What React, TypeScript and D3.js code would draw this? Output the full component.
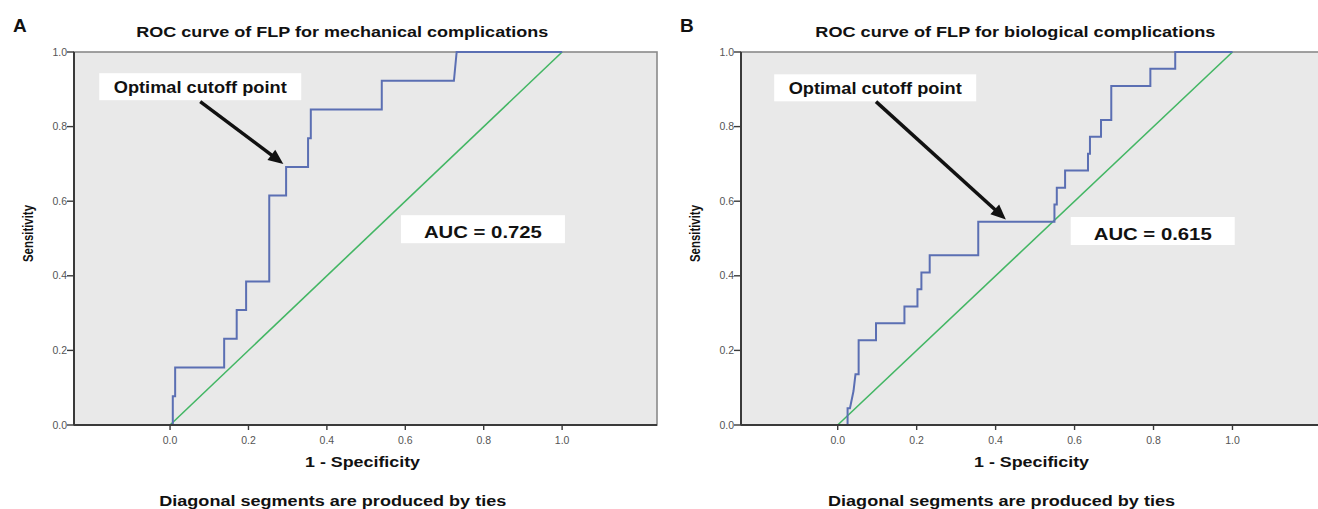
import React from 'react';
import * as d3 from 'd3';

// ---- data ----
const xTicks = [0, 0.2, 0.4, 0.6, 0.8, 1.0];
const yTicks = [0, 0.2, 0.4, 0.6, 0.8, 1.0];

const panelLetters = ['A', 'B'];
const panelTitles = [
  'ROC curve of FLP for mechanical complications',
  'ROC curve of FLP for biological complications',
];
const aucLabels = ['AUC = 0.725', 'AUC = 0.615'];
const cutoffLabel = 'Optimal cutoff point';
const xTitle = '1 - Specificity';
const yTitle = 'Sensitivity';
const footnote = 'Diagonal segments are produced by ties';

// panel A: mechanical complications (ROC steps)
const mechFpr = [0, 0.007, 0.007, 0.013, 0.013, 0.138, 0.138, 0.17, 0.17, 0.194, 0.194, 0.253, 0.253,
  0.296, 0.296, 0.352, 0.352, 0.359, 0.359, 0.54, 0.54, 0.724, 0.731, 1.0];
const mechTpr = [0, 0, 0.077, 0.077, 0.154, 0.154, 0.231, 0.231, 0.308, 0.308, 0.385, 0.385, 0.615,
  0.615, 0.692, 0.692, 0.769, 0.769, 0.846, 0.846, 0.923, 0.923, 1.0, 1.0];

// panel B: biological complications
const bioFpr = [0, 0.025, 0.025, 0.031, 0.04, 0.045, 0.053, 0.053, 0.097, 0.097, 0.169, 0.169, 0.202,
  0.202, 0.212, 0.212, 0.233, 0.233, 0.356, 0.356, 0.549, 0.549, 0.555, 0.555, 0.576, 0.576, 0.634,
  0.634, 0.639, 0.639, 0.667, 0.667, 0.693, 0.693, 0.792, 0.792, 0.855, 0.855, 1.0];
const bioTpr = [0, 0, 0.045, 0.045, 0.091, 0.136, 0.136, 0.227, 0.227, 0.273, 0.273, 0.318, 0.318,
  0.364, 0.364, 0.409, 0.409, 0.455, 0.455, 0.545, 0.545, 0.591, 0.591, 0.636, 0.636, 0.682, 0.682,
  0.727, 0.727, 0.773, 0.773, 0.818, 0.818, 0.909, 0.909, 0.955, 0.955, 1.0, 1.0];

const seriesFpr = [mechFpr, bioFpr];
const seriesTpr = [mechTpr, bioTpr];

// ---- layout (pixels, or data units where noted) ----
const W = 1318;
const H = 509;
const plotTop = 52;
const plotBottom = 425;
const xDomain = [-0.245, 1.242];
const panelRanges = [[74, 657], [741, 1328]];
const layout = [
  { titleX: 0.439, auc: [0.798, 0.525], box: [0.077, 0.907], tail: [0.077, 0.867], tip: [0.289, 0.7] },
  { titleX: 0.45, auc: [0.798, 0.52], box: [0.095, 0.904], tail: [0.097, 0.867], tip: [0.426, 0.551] },
];
const titleWidths = [412, 400];

const FONT = 'Liberation Sans, Arial, Helvetica, sans-serif';
const BLUE = '#5b6fb3';
const GREEN = '#43b664';
const BG = '#e9e9e9';

function Panel({ i }: { i: number }) {
  const x = d3.scaleLinear().domain(xDomain).range(panelRanges[i]);
  const y = d3.scaleLinear().domain([0, 1]).range([plotBottom, plotTop]);
  const lay = layout[i];
  const [x0, x1] = panelRanges[i];

  const pts = seriesFpr[i].map((f, k) => [f, seriesTpr[i][k]] as [number, number]);
  const line = d3.line<[number, number]>().x(d => x(d[0])).y(d => y(d[1]));

  // arrow
  const tx = x(lay.tail[0]), ty = y(lay.tail[1]);
  const hx = x(lay.tip[0]), hy = y(lay.tip[1]);
  const len = Math.hypot(hx - tx, hy - ty);
  const ux = (hx - tx) / len, uy = (hy - ty) / len;
  const headL = 15, headW = 6.5;
  const bx = hx - ux * headL, by = hy - uy * headL;
  const head = `${hx},${hy} ${bx - uy * headW},${by + ux * headW} ${bx + uy * headW},${by - ux * headW}`;

  const aucCx = x(lay.auc[0]), aucCy = y(lay.auc[1]);
  const boxCx = x(lay.box[0]), boxCy = y(lay.box[1]);

  return (
    <g>
      <text x={x0 - 61} y={31.7} fontSize={19} fontWeight="bold" fill="#111">{panelLetters[i]}</text>
      <text x={x(lay.titleX)} y={36.7} textAnchor="middle" fontSize={15} fontWeight="bold" fill="#111"
        textLength={titleWidths[i]} lengthAdjust="spacingAndGlyphs">{panelTitles[i]}</text>

      {/* plot background and frame */}
      <rect x={x0} y={plotTop} width={x1 - x0} height={plotBottom - plotTop} fill={BG} stroke="#8a8a8a" strokeWidth={1.6} />

      {/* diagonal */}
      <path d={line([[0, 0], [1, 1]])!} stroke={GREEN} strokeWidth={1.6} fill="none" />
      {/* ROC curve */}
      <path d={line(pts)!} stroke={BLUE} strokeWidth={2} fill="none" strokeLinejoin="miter" />

      {/* axes */}
      <line x1={x0} x2={x0} y1={plotTop} y2={plotBottom} stroke="#3a3a3a" strokeWidth={2} />
      <line x1={x0} x2={x1} y1={plotBottom} y2={plotBottom} stroke="#3a3a3a" strokeWidth={2} />
      {yTicks.map(t => (
        <g key={'y' + t}>
          <line x1={x0 - 7} x2={x0} y1={y(t)} y2={y(t)} stroke="#3a3a3a" strokeWidth={1.4} />
          <text x={x0 - 7} y={y(t) + 3.5} textAnchor="end" fontSize={10.5} fill="#555">{t.toFixed(1)}</text>
        </g>
      ))}
      {xTicks.map(t => (
        <g key={'x' + t}>
          <line x1={x(t)} x2={x(t)} y1={plotBottom} y2={plotBottom + 5} stroke="#3a3a3a" strokeWidth={1.4} />
          <text x={x(t)} y={plotBottom + 19} textAnchor="middle" fontSize={10.5} fill="#555">{t.toFixed(1)}</text>
        </g>
      ))}

      <text x={x(0.491)} y={467} textAnchor="middle" fontSize={14} fontWeight="bold" fill="#111"
        textLength={115} lengthAdjust="spacingAndGlyphs">{xTitle}</text>
      <text transform={`translate(${x0 - 41},${(plotTop + plotBottom) / 2 - 5}) rotate(-90)`} textAnchor="middle"
        fontSize={14.5} fontWeight="bold" fill="#111" textLength={57} lengthAdjust="spacingAndGlyphs">{yTitle}</text>
      <text x={x(0.415)} y={506} textAnchor="middle" fontSize={14.5} fontWeight="bold" fill="#111"
        textLength={347} lengthAdjust="spacingAndGlyphs">{footnote}</text>

      {/* AUC label */}
      <rect x={aucCx - 82} y={aucCy - 14} width={164} height={28} fill="#fff" />
      <text x={aucCx} y={aucCy + 8.5} textAnchor="middle" fontSize={17} fontWeight="bold" fill="#111"
        textLength={118} lengthAdjust="spacingAndGlyphs">{aucLabels[i]}</text>

      {/* optimal cutoff label and arrow */}
      <rect x={boxCx - 101} y={boxCy - 13.5} width={202} height={27} fill="#fff" />
      <text x={boxCx} y={boxCy + 6} textAnchor="middle" fontSize={16.5} fontWeight="bold" fill="#111"
        textLength={173} lengthAdjust="spacingAndGlyphs">{cutoffLabel}</text>
      <line x1={tx} y1={ty} x2={bx + ux * 2} y2={by + uy * 2} stroke="#111" strokeWidth={3.5} />
      <polygon points={head} fill="#111" />
    </g>
  );
}

export default function App() {
  return (
    <svg width={W} height={H} style={{ position: 'absolute', left: 0, top: 0, background: '#fff' }}
      fontFamily={FONT}>
      <rect width={W} height={H} fill="#fff" />
      <Panel i={0} />
      <Panel i={1} />
    </svg>
  );
}
